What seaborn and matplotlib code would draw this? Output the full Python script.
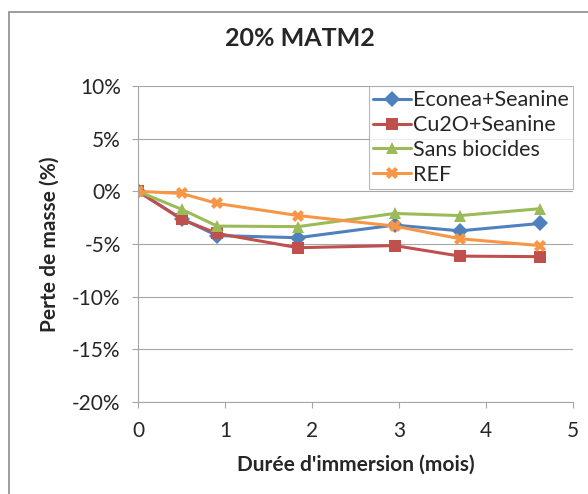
import matplotlib
matplotlib.use("Agg")
import matplotlib.pyplot as plt
import matplotlib.ticker as mtick
from matplotlib.patches import Rectangle
import pandas as pd
import seaborn as sns

# immersion time (months)
mois = [0, 0.5, 0.91, 1.84, 2.95, 3.7, 4.62]

# mass loss (%)
econea = [0, -2.6, -4.2, -4.4, -3.2, -3.75, -3.05]
cu2o = [0, -2.65, -4.0, -5.35, -5.15, -6.15, -6.2]
sans_biocides = [0, -1.7, -3.3, -3.35, -2.1, -2.3, -1.65]
ref = [0, -0.2, -1.15, -2.3, -3.3, -4.5, -5.15]

series = ["Econea+Seanine", "Cu2O+Seanine", "Sans biocides", "REF"]
colors = ["#4F81BD", "#C0504D", "#9BBB59", "#F79646"]
markers = ["D", "s", "^", "X"]

rows = []
for name, vals in zip(series, [econea, cu2o, sans_biocides, ref]):
    for t, v in zip(mois, vals):
        rows.append({"mois": t, "perte": v, "Type": name})
df = pd.DataFrame(rows)

sns.set_style("white")
plt.rcParams["font.family"] = ["Lato", "DejaVu Sans"]

fig = plt.figure(figsize=(5.88, 4.94), dpi=100)
ax = fig.add_axes([0.2347, 0.1862, 0.7398, 0.6397])

sns.lineplot(
    data=df,
    x="mois",
    y="perte",
    hue="Type",
    style="Type",
    hue_order=series,
    style_order=series,
    palette=colors,
    markers=dict(zip(series, markers)),
    dashes=False,
    linewidth=2.2,
    markersize=8.5,
    markeredgewidth=0,
    ax=ax,
)

ax.set_xlim(0, 5)
ax.set_ylim(-20, 10)
ax.set_xticks([0, 1, 2, 3, 4, 5])
ax.set_yticks([-20, -15, -10, -5, 0, 5, 10])
ax.yaxis.set_major_formatter(mtick.FuncFormatter(lambda v, p: f"{v:.0f}%"))
ax.grid(axis="y", color="#a6a6a6", linewidth=0.8)
ax.set_axisbelow(True)
for s in ["top", "right"]:
    ax.spines[s].set_visible(False)
for s in ["left", "bottom"]:
    ax.spines[s].set_color("#a6a6a6")
    ax.spines[s].set_linewidth(0.8)
ax.tick_params(axis="both", direction="out", length=4.5, width=0.8,
               color="#a6a6a6", labelsize=15, left=True, bottom=True)
ax.tick_params(axis="x", pad=9)
ax.tick_params(axis="y", pad=8)

ax.set_xlabel("Durée d'immersion (mois)", fontsize=15, fontweight="bold", labelpad=10)
ax.set_ylabel("Perte de masse (%)", fontsize=15, fontweight="bold", labelpad=9)
fig.suptitle("20% MATM2", x=0.51, y=0.945, fontsize=18, fontweight="bold")

leg = ax.legend(loc="upper right", bbox_to_anchor=(1.0, 1.0), frameon=True,
                fancybox=False, fontsize=15.5, handlelength=1.75, handletextpad=0.1,
                borderpad=0.2, labelspacing=0.22, borderaxespad=0)
leg.get_frame().set_edgecolor("#a6a6a6")
leg.get_frame().set_linewidth(0.8)
leg.set_title(None)

fig.patches.append(Rectangle((8.5 / 588, -0.1), 1.2, 1.1 - 12.5 / 494,
                             transform=fig.transFigure, fill=False,
                             edgecolor="#8c8c8c", linewidth=1.2))

fig.savefig("out.png", dpi=100)
